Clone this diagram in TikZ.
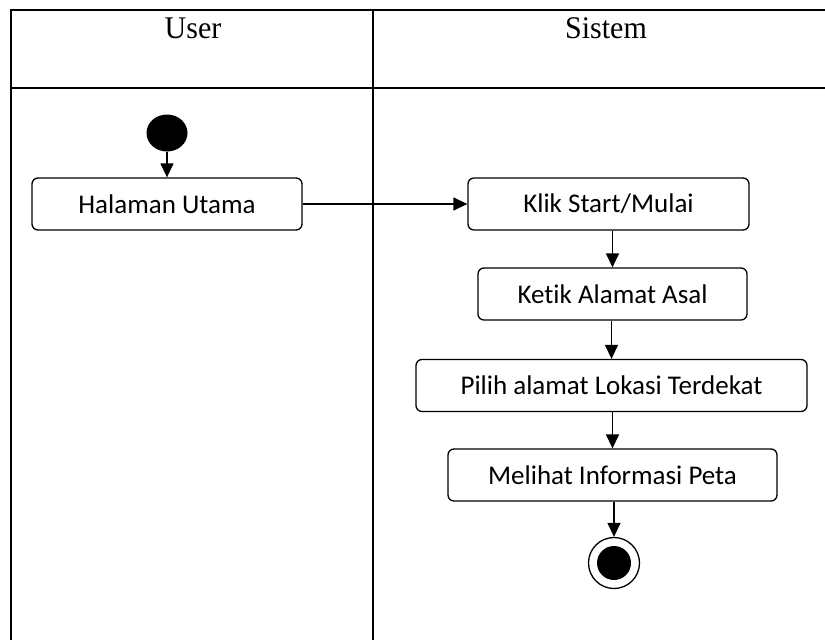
\documentclass[tikz,border=0pt]{standalone}
\usepackage{fontspec}
\setmainfont{Liberation Serif}
\newfontfamily\actfont[Ligatures=NoCommon]{Carlito}
\usetikzlibrary{arrows.meta}
\usetikzlibrary{positioning}
\usetikzlibrary{shapes.geometric}

\begin{document}
\begin{tikzpicture}[x=1pt, y=-1pt, >={Triangle[width=13pt,length=14pt]},
    lane/.style={line width=2pt},
    lanetitle/.style={anchor=base, inner sep=0pt, yscale=1.05, font=\fontsize{30}{34}\selectfont},
    activity/.style={draw, line width=1.3pt, rounded corners=6pt, minimum height=52pt,
      inner sep=0pt, font=\actfont\fontsize{27}{32}\selectfont},
    startdot/.style={ellipse, fill=black, minimum width=41pt, minimum height=37pt, inner sep=0pt},
    enddot/.style={circle, draw, line width=1.3pt, minimum size=51pt, inner sep=0pt},
    flow/.style={->, line width=1.4pt}]
      \useasboundingbox (0,0) rectangle (825,640);
      % swimlanes
      \draw[lane] (826,10) -- (11,10) -- (11,641);
      \draw[lane] (11,88) -- (826,88);
      \draw[lane] (373,10) -- (373,641);
      \node[lanetitle] (user)   at (193,38) {User};
      \node[lanetitle] (sistem) at (606,38) {Sistem};
      % activities
      \node[startdot]                     (mulai)   at (167,133)   {};
      \node[activity, minimum width=270pt] (halaman) at (167,204)   {Halaman Utama};
      \node[activity, minimum width=281pt] (klik)    at (608.5,204) {Klik Start/Mulai};
      \node[activity, minimum width=269pt] (ketik)   at (612.5,294) {Ketik Alamat Asal};
      \node[activity, minimum width=391pt] (pilih)   at (611.5,385.5) {Pilih alamat Lokasi Terdekat};
      \node[activity, minimum width=329pt] (melihat) at (612.5,475) {Melihat Informasi Peta};
      \node[enddot]                        (selesai) at (614,563)   {};
      \fill (selesai.center) circle (17pt);
      \draw[flow] (mulai) -- (halaman);
      \draw[flow] (halaman) -- (klik);
      \draw[flow] (klik.south -| ketik.north) -- (ketik.north);
      \draw[flow] (ketik.south -| pilih.north) -- (pilih.north);
      \draw[flow] (pilih.south -| melihat.north) -- (melihat.north);
      \draw[flow] (melihat.south -| selesai.north) -- (selesai.north);
\end{tikzpicture}
\end{document}
